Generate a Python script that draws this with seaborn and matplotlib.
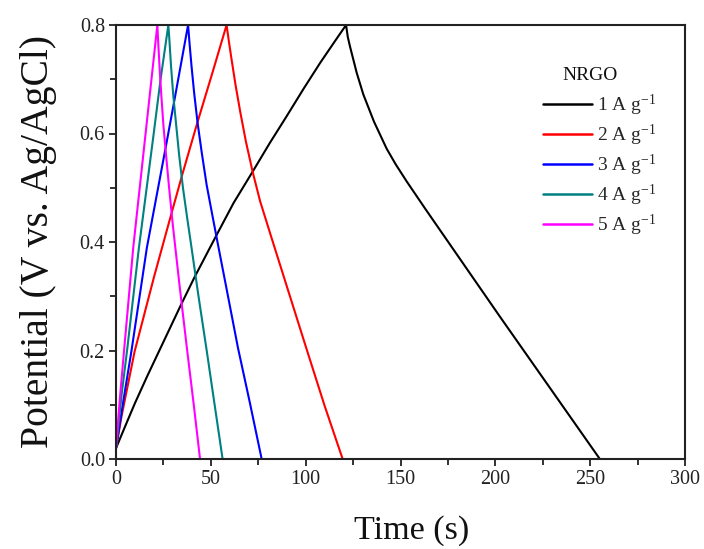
import matplotlib
matplotlib.use("Agg")
import matplotlib.pyplot as plt
import seaborn as sns
import pandas as pd
from matplotlib.ticker import MultipleLocator

# ---- data (charge branch + discharge branch) ----
labels = ["1 A g$^{-1}$", "2 A g$^{-1}$", "3 A g$^{-1}$", "4 A g$^{-1}$", "5 A g$^{-1}$"]
colors = ["#000000", "#ff0000", "#0000ff", "#008080", "#ff00ff"]
legend_title = "NRGO"

t_1 = [0, 3, 6, 10, 16.5, 25.3, 34.1, 41.1, 52.6, 62, 72.1, 81, 90, 99, 107.6, 115, 121.3,
       122.2, 123.4, 126.9, 130.4, 136.0, 142.7, 147.5, 153.2, 162.9, 202.5, 255.1]
v_1 = [0.02, 0.045, 0.07, 0.103, 0.153, 0.218, 0.283, 0.333, 0.41, 0.472, 0.53, 0.582,
       0.632, 0.683, 0.73, 0.768, 0.80,
       0.778, 0.76, 0.712, 0.672, 0.622, 0.572, 0.543, 0.512, 0.462, 0.262, 0.0]

t_2 = [0, 3, 9.8, 20, 28.8, 35, 42.9, 51.1, 58.3,
       59.5, 61.0, 63.0, 65.5, 68.5, 72.0, 76.0, 81.8, 90, 100.9, 110, 119.5]
v_2 = [0.02, 0.08, 0.198, 0.335, 0.447, 0.525, 0.62, 0.715, 0.80,
       0.77, 0.735, 0.69, 0.64, 0.585, 0.53, 0.475, 0.41, 0.319, 0.198, 0.098, 0.0]

t_3 = [0, 4, 8.1, 16.3, 25.7, 30.2, 38.0,
       38.8, 39.8, 41.2, 43.0, 45.2, 47.8, 50.5, 53.5, 58.5, 64.3, 70.5, 76.8]
v_3 = [0.02, 0.11, 0.198, 0.39, 0.565, 0.65, 0.80,
       0.765, 0.725, 0.675, 0.62, 0.565, 0.505, 0.455, 0.40, 0.31, 0.205, 0.105, 0.0]

t_4 = [0, 3, 6, 12.1, 19.7, 23.5, 27.6,
       28.2, 29.0, 30.2, 31.6, 33.3, 35.3, 37.5, 39.8, 43.5, 47.9, 52.0, 56.2]
v_4 = [0.02, 0.12, 0.205, 0.39, 0.595, 0.70, 0.80,
       0.77, 0.725, 0.67, 0.62, 0.56, 0.50, 0.445, 0.39, 0.30, 0.198, 0.10, 0.0]

t_5 = [0, 2, 4.2, 9.1, 15.6, 21.8,
       22.3, 23.0, 23.9, 25.0, 26.4, 28.0, 30.0, 33.5, 37.6, 41.0, 44.3]
v_5 = [0.02, 0.11, 0.198, 0.39, 0.60, 0.80,
       0.765, 0.72, 0.67, 0.615, 0.56, 0.50, 0.43, 0.32, 0.198, 0.10, 0.0]

times = [t_1, t_2, t_3, t_4, t_5]
volts = [v_1, v_2, v_3, v_4, v_5]

x_ticks = [0, 50, 100, 150, 200, 250, 300]
y_ticks = [0.0, 0.2, 0.4, 0.6, 0.8]

# ---- style ----
sns.set_theme(style="ticks")
plt.rcParams["font.family"] = ["Liberation Serif", "DejaVu Serif"]
plt.rcParams["mathtext.fontset"] = "custom"
plt.rcParams["mathtext.rm"] = "Liberation Serif"
plt.rcParams["mathtext.it"] = "Liberation Serif:italic"

fig = plt.figure(figsize=(7.04, 5.49), dpi=100)
ax = fig.add_axes([116 / 704, 1 - 459 / 549, 569 / 704, 434 / 549])

for t, v, lab, c in zip(times, volts, labels, colors):
    df = pd.DataFrame({"Time": t, "Potential": v})
    sns.lineplot(data=df, x="Time", y="Potential", sort=False, estimator=None,
                 color=c, lw=1.5, label=lab, ax=ax)

ax.set_xlim(0, 300)
ax.set_ylim(0, 0.8)
ax.set_xticks(x_ticks)
ax.set_yticks(y_ticks)
ax.set_xticklabels([str(x) for x in x_ticks])
ax.set_yticklabels([f"{y:.1f}" for y in y_ticks])
ax.xaxis.set_minor_locator(MultipleLocator(25))
ax.yaxis.set_minor_locator(MultipleLocator(0.1))
ax.tick_params(axis="both", which="major", direction="out", length=5, width=1.3,
               labelsize=14.5, color="#222222", labelcolor="#222222", pad=3,
               top=False, right=False)
ax.tick_params(axis="both", which="minor", direction="out", length=4, width=1.3,
               color="#222222", top=False, right=False)
for s in ax.spines.values():
    s.set_visible(True)
    s.set_linewidth(1.5)
    s.set_color("#222222")

ax.set_xlabel("Time (s)", fontsize=24.5, color="#111111", labelpad=19)
ax.xaxis.label.set_x(0.52)
ax.set_ylabel("Potential (V vs. Ag/AgCl)", fontsize=28.5, color="#111111", labelpad=16)

leg = ax.legend(loc="upper left", bbox_to_anchor=(543 / 704, 1 - 92.5 / 549),
                bbox_transform=fig.transFigure, frameon=False,
                fontsize=14, handlelength=2.5,
                handletextpad=0.3, labelspacing=0.25, borderpad=0,
                borderaxespad=0)
for line in leg.get_lines():
    line.set_linewidth(1.8)
fig.text(590 / 704, 1 - 75 / 549, legend_title, ha="center", va="center",
         fontsize=14, color="#111111")

fig.savefig("out.png", dpi=100)
